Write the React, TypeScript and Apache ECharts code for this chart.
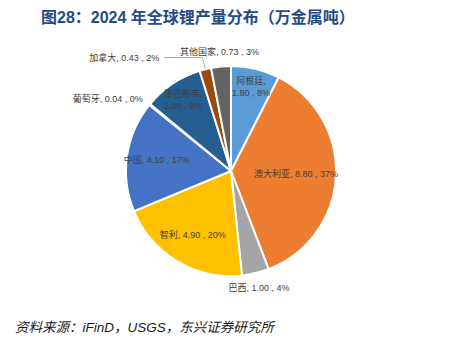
import React, { useEffect, useRef } from "react";
import * as echarts from "echarts";

const titleText = "图28：2024 年全球锂产量分布（万金属吨）";
const sourceText = "资料来源：iFinD，USGS，东兴证券研究所";

const countries = ["阿根廷", "澳大利亚", "巴西", "智利", "中国", "葡萄牙", "津巴布韦", "加拿大", "其他国家"];
const production = [1.8, 8.8, 1.0, 4.9, 4.1, 0.04, 2.2, 0.43, 0.73];
const sliceColors = ["#5B9BD5", "#ED7D31", "#A5A5A5", "#FFC000", "#4472C4", "#70AD47", "#255E91", "#9E480E", "#636363"];

// label rings: a transparent pie of this radius puts its "inside" labels at half the radius
const labelRings = [
  { radius: 166, names: ["阿根廷", "津巴布韦"], align: null as string | null },
  { radius: 144, names: ["智利", "中国"], align: null as string | null },
  { radius: 124, names: ["澳大利亚"], align: null as string | null },
  { radius: 234, names: ["巴西", "其他国家"], align: null as string | null },
  { radius: 222, names: ["葡萄牙"], align: "right" as string | null },
];
const twoLineNames = ["阿根廷", "津巴布韦"];
const leaderNames = ["加拿大"];

const CENTER = [231, 171];
const RADIUS = 105;
const LABEL_FONT = "'Liberation Sans', 'Noto Sans CJK SC', sans-serif";

export default function App() {
  const ref = useRef<HTMLDivElement>(null);
  useEffect(() => {
    document.body.style.margin = "0";
    if (!ref.current) return;
    const chart = echarts.init(ref.current, null, { renderer: "svg" });
    const total = production.reduce((a, b) => a + b, 0);
    const fmt = (p: any) => {
      const pct = Math.round((p.value / total) * 100);
      const sep = twoLineNames.includes(p.name) ? ",\n" : ", ";
      return `${p.name}${sep}${Number(p.value).toFixed(2)} , ${pct}%`;
    };
    const labelStyle = {
      color: "#404040",
      fontSize: 9,
      fontFamily: LABEL_FONT,
      lineHeight: 12,
      formatter: fmt,
    };

    const mainSeries: any = {
      type: "pie",
      center: CENTER,
      radius: RADIUS,
      startAngle: 90,
      clockwise: true,
      avoidLabelOverlap: false,
      emphasis: { disabled: true },
      itemStyle: { borderColor: "#ffffff", borderWidth: 2 },
      label: { show: false },
      labelLine: { show: false },
      data: countries.map((n, i) => ({
        name: n,
        value: production[i],
        itemStyle: { color: sliceColors[i] },
        label: leaderNames.includes(n)
          ? { show: true, position: "outside", ...labelStyle }
          : { show: false },
        labelLine: leaderNames.includes(n)
          ? { show: true, length: 12, length2: 38, lineStyle: { color: "#A6A6A6", width: 1 } }
          : { show: false },
      })),
    };

    const ringSeries: any[] = labelRings.map((ring) => ({
      type: "pie",
      center: CENTER,
      radius: ring.radius,
      startAngle: 90,
      clockwise: true,
      silent: true,
      avoidLabelOverlap: false,
      emphasis: { disabled: true },
      itemStyle: { color: "transparent", borderWidth: 0 },
      labelLine: { show: false },
      labelLayout: ring.align ? { align: ring.align } : undefined,
      label: { show: false },
      data: countries.map((n, i) => ({
        name: n,
        value: production[i],
        label: ring.names.includes(n)
          ? { show: true, position: "inside", ...labelStyle }
          : { show: false },
      })),
    }));

    chart.setOption({
      animation: false,
      title: [
        {
          text: titleText,
          left: 36,
          top: 4,
          textStyle: {
            fontSize: 16,
            fontWeight: "bold",
            color: "#254A86",
            fontFamily: "'Liberation Sans', 'Noto Sans CJK SC', sans-serif",
          },
        },
        {
          text: sourceText,
          left: 10,
          top: 316,
          textStyle: {
            fontSize: 13.5,
            fontWeight: "normal",
            fontStyle: "italic",
            color: "#1A1A1A",
            fontFamily: "'Liberation Sans', 'Noto Sans CJK SC', sans-serif",
          },
        },
      ],
      series: [mainSeries, ...ringSeries],
    });
    return () => chart.dispose();
  }, []);
  return <div ref={ref} style={{ width: 463, height: 338 }} />;
}
